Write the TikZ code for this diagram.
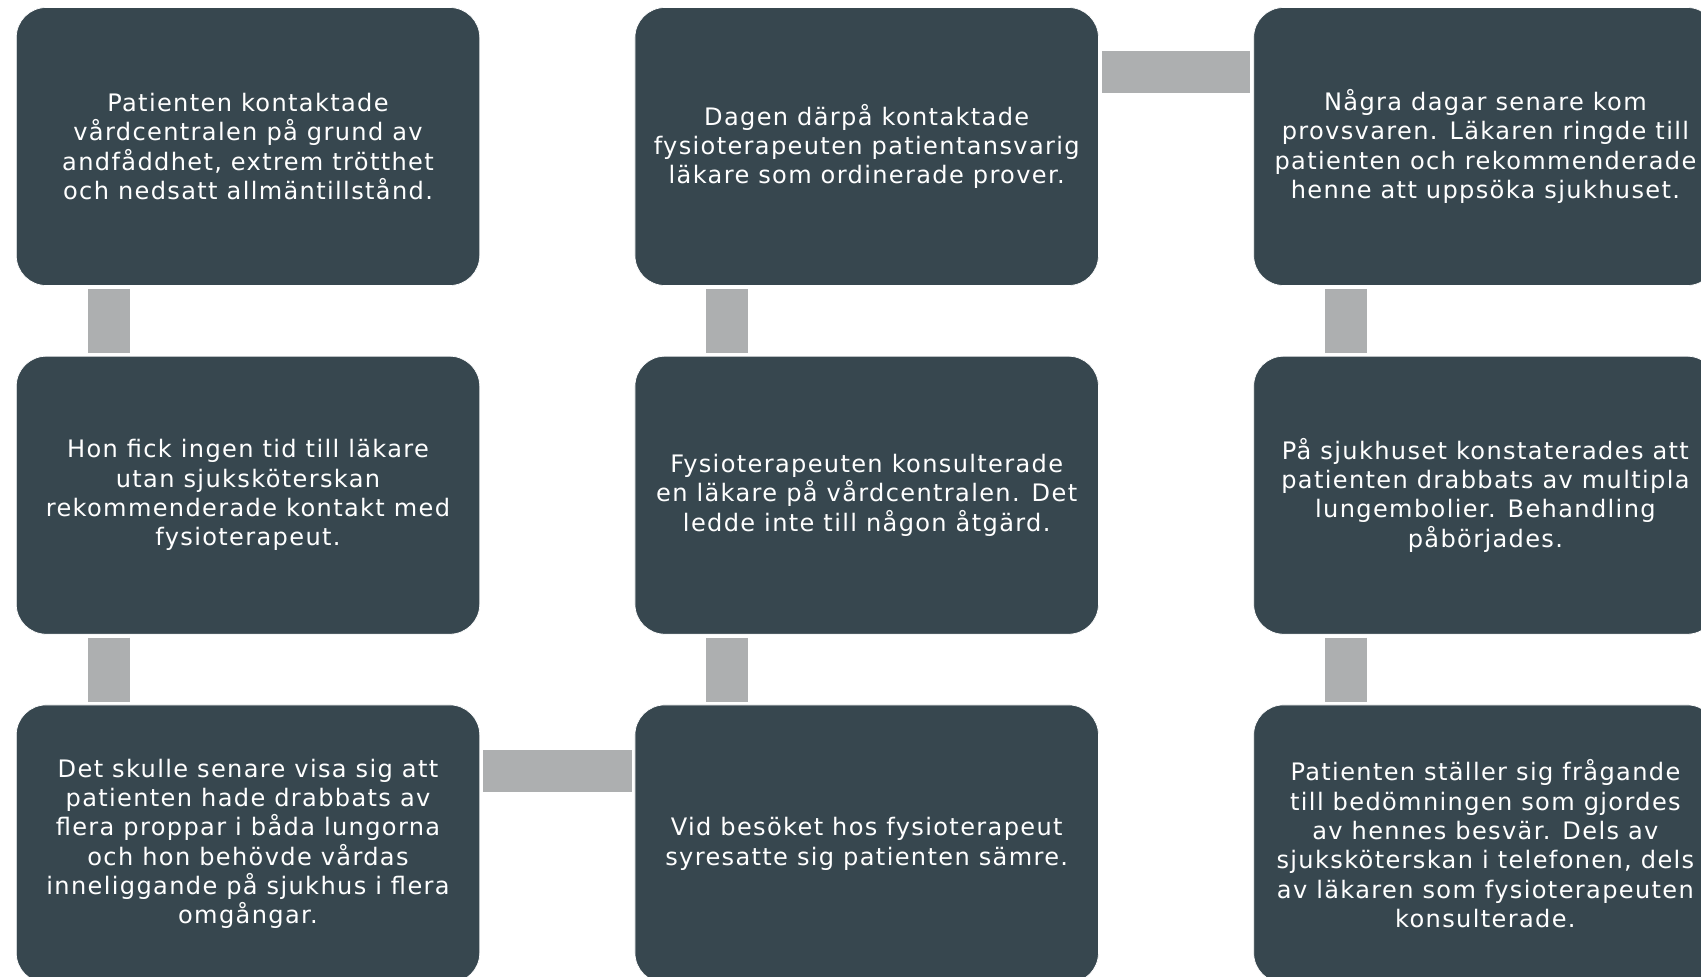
\documentclass[tikz,border=0pt]{standalone}
\usepackage{fontspec}
\setmainfont[LetterSpace=5.6]{DejaVu Sans}
\usetikzlibrary{positioning}
\definecolor{mslate}{RGB}{55,71,79}
\definecolor{mgray}{RGB}{173,175,176}
\tikzset{box/.style = {fill = mslate, draw = white, thin, rounded corners = 0.6cm,
                       minimum width = 9.27cm, minimum height = 5.56cm, inner sep = 0,
                       text = white, align = center, font = \fontsize{13.7}{16.7}\selectfont}}
\tikzset{bar/.style = {mgray, line width = 0.84cm, shorten >= 0.06cm, shorten <= 0.06cm}}

\begin{document}
\begin{tikzpicture}
    \useasboundingbox (0, 0) rectangle (34.02, -19.54);
    \clip (0, 0) rectangle (34.02, -19.54);

    \node [box] (kontakt) at (4.96, -2.93) {Patienten kontaktade\\ vårdcentralen på grund av\\ andfåddhet, extrem trötthet\\ och nedsatt allmäntillstånd.};
    \node [box, below = 1.40cm of kontakt] (ingentid) {Hon fick ingen tid till läkare\\ utan sjuksköterskan\\ rekommenderade kontakt med\\ fysioterapeut.};
    \node [box, below = 1.40cm of ingentid] (senare) {Det skulle senare visa sig att\\ patienten hade drabbats av\\ flera proppar i båda lungorna\\ och hon behövde vårdas\\ inneliggande på sjukhus i flera\\ omgångar.};

    \node [box, right = 3.09cm of kontakt] (dagen) {Dagen därpå kontaktade\\ fysioterapeuten patientansvarig\\ läkare som ordinerade prover.};
    \node [box, below = 1.40cm of dagen] (konsult) {Fysioterapeuten konsulterade\\ en läkare på vårdcentralen. Det\\ ledde inte till någon åtgärd.};
    \node [box, below = 1.40cm of konsult] (besok) {Vid besöket hos fysioterapeut\\ syresatte sig patienten sämre.};

    \node [box, right = 3.09cm of dagen] (provsvar) {Några dagar senare kom\\ provsvaren. Läkaren ringde till\\ patienten och rekommenderade\\ henne att uppsöka sjukhuset.};
    \node [box, below = 1.40cm of provsvar] (sjukhus) {På sjukhuset konstaterades att\\ patienten drabbats av multipla\\ lungembolier. Behandling\\ påbörjades.};
    \node [box, below = 1.40cm of sjukhus] (fragande) {Patienten ställer sig frågande\\ till bedömningen som gjordes\\ av hennes besvär. Dels av\\ sjuksköterskan i telefonen, dels\\ av läkaren som fysioterapeuten\\ konsulterade.};

    \draw [bar] ([xshift = 1.86cm] kontakt.south west) -- ([xshift = 1.86cm] ingentid.north west);
    \draw [bar] ([xshift = 1.86cm] ingentid.south west) -- ([xshift = 1.86cm] senare.north west);
    \draw [bar] ([yshift = -1.33cm] senare.north east) -- ([yshift = -1.33cm] besok.north west);
    \draw [bar] ([xshift = 1.84cm] besok.north west) -- ([xshift = 1.84cm] konsult.south west);
    \draw [bar] ([xshift = 1.84cm] konsult.north west) -- ([xshift = 1.84cm] dagen.south west);
    \draw [bar] ([yshift = -1.30cm] dagen.north east) -- ([yshift = -1.30cm] provsvar.north west);
    \draw [bar] ([xshift = 1.86cm] provsvar.south west) -- ([xshift = 1.86cm] sjukhus.north west);
    \draw [bar] ([xshift = 1.86cm] sjukhus.south west) -- ([xshift = 1.86cm] fragande.north west);
\end{tikzpicture}
\end{document}
